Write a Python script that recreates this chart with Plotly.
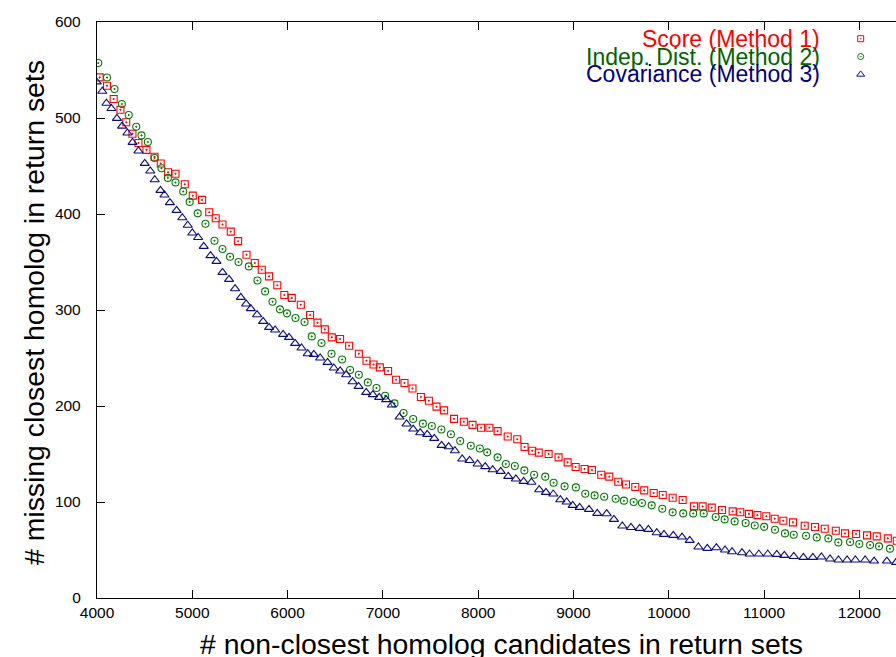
import plotly.graph_objects as go

# ---------------- data ----------------
score_x = [4028, 4105, 4175, 4246, 4307, 4372, 4435, 4519, 4604, 4669, 4746, 4824, 4921, 5005, 5103,
           5178, 5246, 5317, 5404, 5481, 5569, 5656, 5729, 5806, 5892, 5966, 6044, 6139, 6236, 6314,
           6391, 6464, 6551, 6646, 6748, 6828, 6902, 6968, 7055, 7139, 7227, 7311, 7399, 7483, 7563,
           7643, 7747, 7850, 7941, 8031, 8118, 8204, 8310, 8410, 8487, 8567, 8636, 8739, 8844, 8939,
           9023, 9117, 9194, 9292, 9376, 9470, 9551, 9649, 9743, 9842, 9937, 10041, 10146, 10265, 10356,
           10451, 10559, 10671, 10751, 10842, 10931, 11024, 11112, 11203, 11304, 11427, 11535, 11637, 11753, 11850,
           11966, 12081, 12183, 12299, 12393]
score_y = [542.3, 533.6, 519.8, 508.6, 495.6, 483.6, 474.0, 466.8, 459.7, 452.6, 443.5, 442.0, 431.0, 419.1, 414.7,
           401.9, 395.6, 389.1, 381.6, 371.7, 357.6, 349.0, 342.0, 335.0, 325.8, 315.7, 312.6, 305.5, 294.8, 286.8,
           279.8, 271.5, 269.8, 262.8, 254.5, 247.2, 243.3, 240.2, 236.5, 227.4, 224.0, 218.3, 209.4, 205.5, 199.3,
           195.4, 186.6, 183.6, 180.3, 177.4, 177.4, 173.8, 168.3, 165.4, 157.3, 153.4, 151.4, 150.0, 146.5, 141.3,
           136.5, 134.4, 133.3, 128.4, 126.4, 121.1, 118.3, 115.6, 112.1, 109.4, 107.3, 104.5, 102.1, 95.4, 95.4,
           94.1, 91.7, 90.2, 89.4, 87.6, 86.3, 85.2, 82.6, 80.5, 78.8, 75.3, 74.0, 72.2, 70.1, 67.3,
           66.7, 65.2, 64.2, 62.1, 59.7]

indep_x = [4013, 4105, 4184, 4261, 4333, 4412, 4467, 4534, 4604, 4677, 4744, 4824, 4905, 4973, 5057,
           5138, 5233, 5317, 5396, 5485, 5593, 5684, 5764, 5842, 5920, 5994, 6083, 6178, 6254, 6356,
           6461, 6572, 6656, 6748, 6842, 6933, 7024, 7122, 7217, 7318, 7420, 7514, 7614, 7714, 7812,
           7923, 8018, 8095, 8204, 8291, 8385, 8485, 8587, 8704, 8792, 8907, 9026, 9124, 9222, 9323,
           9443, 9530, 9632, 9719, 9821, 9932, 10041, 10152, 10257, 10367, 10493, 10587, 10692, 10807, 10903,
           11002, 11115, 11220, 11312, 11441, 11553, 11675, 11780, 11903, 12000, 12113, 12207, 12322]
indep_y = [557.3, 542.2, 530.2, 514.6, 503.1, 490.9, 481.9, 475.0, 458.3, 447.7, 437.6, 432.9, 423.5, 412.6, 400.7,
           389.9, 372.2, 363.5, 355.5, 350.0, 345.4, 330.8, 319.4, 308.6, 300.7, 296.5, 291.7, 287.5, 272.5, 265.6,
           254.5, 248.5, 237.5, 232.6, 224.6, 218.8, 210.7, 202.7, 192.7, 186.5, 181.6, 179.2, 175.5, 170.6, 163.6,
           158.6, 155.8, 151.7, 146.5, 139.6, 137.5, 132.9, 128.4, 126.4, 120.1, 116.3, 115.2, 108.6, 106.9, 105.5,
           103.4, 101.4, 100.0, 99.0, 96.5, 93.0, 89.2, 88.1, 88.1, 88.1, 84.4, 81.9, 79.8, 78.2, 75.5,
           74.1, 71.1, 67.3, 65.9, 64.9, 63.1, 62.1, 57.9, 58.3, 56.3, 55.2, 53.8, 51.4]

cov_x = [3997, 4055, 4099, 4151, 4209, 4263, 4319, 4373, 4435, 4501, 4559, 4606, 4666, 4708, 4765,
         4835, 4895, 4952, 5000, 5061, 5120, 5191, 5254, 5317, 5386, 5449, 5509, 5565, 5614, 5680,
         5743, 5806, 5869, 5953, 6015, 6079, 6146, 6212, 6275, 6342, 6419, 6485, 6552, 6615, 6682,
         6745, 6825, 6895, 6961, 7035, 7094, 7175, 7249, 7318, 7392, 7465, 7539, 7616, 7690, 7756,
         7833, 7910, 7994, 8074, 8152, 8236, 8316, 8396, 8477, 8559, 8641, 8711, 8788, 8862, 8929,
         8992, 9065, 9163, 9250, 9349, 9425, 9513, 9604, 9695, 9786, 9874, 9950, 10048, 10139, 10220,
         10311, 10405, 10500, 10591, 10664, 10769, 10848, 10946, 11039, 11134, 11213, 11312, 11413, 11512, 11602,
         11693, 11781, 11872, 11959, 12061, 12155, 12289, 12386]
cov_y = [537.6, 527.9, 515.4, 509.9, 499.6, 491.5, 484.4, 474.6, 465.7, 452.7, 444.8, 435.7, 424.6, 419.8, 411.8,
         403.8, 396.1, 388.3, 380.2, 375.5, 366.3, 356.6, 350.6, 339.2, 331.9, 322.2, 313.1, 306.3, 301.4, 295.1,
         288.1, 281.9, 279.2, 274.6, 271.5, 265.2, 260.4, 254.5, 253.8, 250.0, 245.4, 239.6, 236.5, 232.6, 225.3,
         220.4, 214.2, 211.8, 209.0, 206.6, 201.0, 188.5, 181.3, 176.0, 172.2, 170.4, 166.3, 159.0, 157.6, 153.4,
         144.8, 143.3, 139.6, 136.8, 133.6, 131.9, 126.7, 124.0, 121.5, 120.6, 112.8, 110.0, 108.3, 102.4, 100.0,
         96.5, 94.4, 92.3, 88.1, 87.8, 81.9, 75.0, 73.5, 72.5, 71.5, 68.0, 66.3, 65.2, 63.5, 60.0,
         53.1, 51.7, 52.4, 50.0, 48.2, 47.2, 45.8, 45.8, 45.8, 45.4, 44.4, 43.3, 42.3, 42.3, 42.7,
         40.6, 39.6, 39.6, 39.6, 39.6, 38.5, 38.5, 37.1]

series_names = ["Score (Method 1)", "Indep. Dist. (Method 2)", "Covariance (Method 3)"]
x_ticks = [4000, 5000, 6000, 7000, 8000, 9000, 10000, 11000, 12000]
y_ticks = [0, 100, 200, 300, 400, 500, 600]

# ---------------- styling ----------------
W, H = 896, 657
L, R, T, B = 97, 0, 22, 59
red, green, blue = "#ff0000", "#0a7a0a", "#0c0c80"
text_colors = ["#ff0000", "#006400", "#000080"]
marker_colors = [red, green, blue]
symbols = ["square-open-dot", "circle-open-dot", "triangle-up-open"]
sizes = [7, 7, 8]

fig = go.Figure()
for xs, ys, c, s, sz, nm in zip([score_x, indep_x, cov_x], [score_y, indep_y, cov_y],
                                marker_colors, symbols, sizes, series_names):
    fig.add_trace(go.Scatter(x=xs, y=ys, mode="markers", name=nm, showlegend=False,
                             marker=dict(symbol=s, size=sz, color=c, line=dict(width=1.1, color=c))))

# legend keys drawn on an overlay paper-like axis (text right-aligned, key symbol on its right)
key_x = 0.9558
key_y = [0.971, 0.940, 0.909]
for i in range(3):
    fig.add_trace(go.Scatter(x=[key_x], y=[key_y[i]], xaxis="x2", yaxis="y2", mode="markers",
                             showlegend=False, hoverinfo="skip",
                             marker=dict(symbol=symbols[i], size=sizes[i] - 1, color=marker_colors[i],
                                         line=dict(width=1, color=marker_colors[i]))))
    fig.add_annotation(xref="paper", yref="paper", x=0.9074, y=key_y[i], xanchor="right",
                       yanchor="middle", text=series_names[i], showarrow=False,
                       font=dict(family="Liberation Sans, Arial, sans-serif", size=23,
                                 color=text_colors[i]))

tickfont = dict(family="Liberation Sans, Arial, sans-serif", size=15.5, color="black")
fig.update_layout(
    width=W, height=H, margin=dict(l=L, r=R, t=T, b=B),
    paper_bgcolor="white", plot_bgcolor="white",
    xaxis=dict(range=[4000, 12385], tickvals=x_ticks, ticktext=[str(v) for v in x_ticks],
               ticks="inside", ticklen=8, tickwidth=1, tickcolor="black",
               showline=True, linecolor="black", linewidth=1.3, mirror="ticks",
               showgrid=False, zeroline=False, tickfont=tickfont),
    yaxis=dict(range=[0, 600], tickvals=y_ticks, ticktext=[str(v) for v in y_ticks],
               ticks="inside", ticklen=8, tickwidth=1, tickcolor="black",
               showline=True, linecolor="black", linewidth=1.3, mirror=False,
               showgrid=False, zeroline=False, tickfont=tickfont, ticklabelstandoff=12),
    xaxis2=dict(range=[0, 1], overlaying="x", visible=False, fixedrange=True),
    yaxis2=dict(range=[0, 1], overlaying="y", visible=False, fixedrange=True),
)

titlefont = dict(family="Liberation Sans, Arial, sans-serif", size=28.4, color="black")
fig.add_annotation(xref="paper", yref="paper", x=(501 - L) / (W - L - R), y=(H - 644 - B) / (H - T - B),
                   text="# non-closest homolog candidates in return sets", showarrow=False,
                   xanchor="center", yanchor="middle", font=titlefont)
fig.add_annotation(xref="paper", yref="paper", x=(34 - L) / (W - L - R), y=(H - 313 - B) / (H - T - B),
                   text="# missing closest homolog in return sets", showarrow=False, textangle=-90,
                   xanchor="center", yanchor="middle", font=titlefont)

fig.write_html("out.html")
